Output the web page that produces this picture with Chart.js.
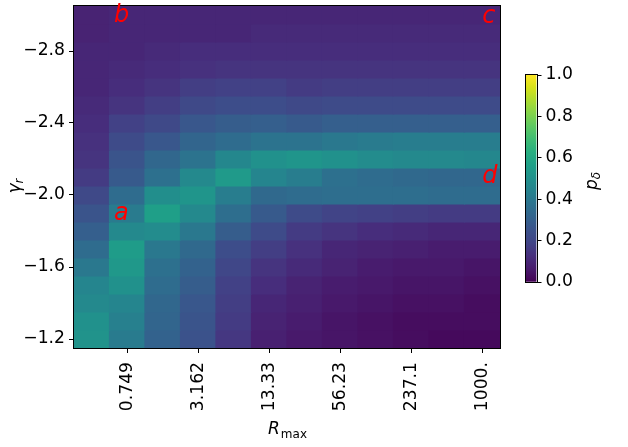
<!DOCTYPE html>
<html><head><meta charset="utf-8">
<script src="https://cdn.jsdelivr.net/npm/chart.js@4.4.0/dist/chart.umd.min.js"></script>
<style>
html,body{margin:0;padding:0;background:#fff;}
#wrap{position:relative;width:628px;height:447px;overflow:hidden;}
canvas{position:absolute;top:0;}
</style></head><body>
<div id="wrap">
<canvas id="main" width="628" height="447" style="left:0"></canvas>
<canvas id="cbar" width="128" height="447" style="left:500px"></canvas>
</div>
<script>
// ---- data ----
const Rmax = ["0.3652","0.749","1.538","3.162","6.494","13.33","27.38","56.23","115.5","237.1","486.9","1000."];
const xTickCols = [1,3,5,7,9,11];
const gammaR = [-3.0,-2.9,-2.8,-2.7,-2.6,-2.5,-2.4,-2.3,-2.2,-2.1,-2.0,-1.9,-1.8,-1.7,-1.6,-1.5,-1.4,-1.3,-1.2];
const yTicks = [-2.8,-2.4,-2.0,-1.6,-1.2];
const cbarTicks = [0,0.2,0.4,0.6,0.8,1.0];

// p_delta, one row per gamma_r value (columns follow Rmax)
const p_g30 = [0.09,0.10,0.10,0.10,0.10,0.10,0.10,0.10,0.10,0.10,0.10,0.10];
const p_g29 = [0.09,0.10,0.10,0.10,0.10,0.11,0.11,0.11,0.11,0.11,0.11,0.11];
const p_g28 = [0.10,0.10,0.11,0.12,0.12,0.12,0.12,0.12,0.12,0.12,0.12,0.12];
const p_g27 = [0.10,0.11,0.12,0.13,0.14,0.14,0.14,0.14,0.14,0.14,0.14,0.14];
const p_g26 = [0.10,0.12,0.14,0.17,0.18,0.18,0.16,0.17,0.17,0.17,0.17,0.17];
const p_g25 = [0.11,0.14,0.17,0.21,0.23,0.23,0.21,0.22,0.22,0.22,0.22,0.22];
const p_g24 = [0.12,0.18,0.21,0.27,0.29,0.30,0.28,0.30,0.30,0.30,0.30,0.30];
const p_g23 = [0.13,0.22,0.27,0.32,0.35,0.38,0.38,0.40,0.41,0.42,0.42,0.42];
const p_g22 = [0.14,0.26,0.33,0.38,0.46,0.50,0.52,0.50,0.48,0.47,0.47,0.46];
const p_g21 = [0.16,0.28,0.37,0.47,0.54,0.45,0.42,0.37,0.35,0.34,0.33,0.33];
const p_g20 = [0.21,0.35,0.49,0.52,0.42,0.34,0.35,0.36,0.36,0.36,0.35,0.35];
const p_g19 = [0.26,0.41,0.56,0.47,0.36,0.28,0.22,0.19,0.18,0.17,0.16,0.16];
const p_g18 = [0.30,0.47,0.48,0.40,0.29,0.22,0.16,0.14,0.12,0.11,0.10,0.10];
const p_g17 = [0.35,0.55,0.40,0.34,0.23,0.17,0.13,0.10,0.09,0.08,0.07,0.07];
const p_g16 = [0.40,0.53,0.37,0.31,0.20,0.14,0.11,0.09,0.07,0.06,0.06,0.05];
const p_g15 = [0.45,0.50,0.35,0.29,0.18,0.12,0.09,0.07,0.06,0.05,0.05,0.04];
const p_g14 = [0.47,0.45,0.33,0.27,0.17,0.10,0.08,0.06,0.05,0.04,0.04,0.03];
const p_g13 = [0.50,0.43,0.32,0.26,0.16,0.09,0.07,0.05,0.04,0.03,0.03,0.03];
const p_g12 = [0.51,0.41,0.31,0.25,0.15,0.08,0.06,0.05,0.04,0.03,0.02,0.02];
const pDelta = [p_g30,p_g29,p_g28,p_g27,p_g26,p_g25,p_g24,p_g23,p_g22,p_g21,p_g20,p_g19,p_g18,p_g17,p_g16,p_g15,p_g14,p_g13,p_g12];

// annotation labels (data coordinates: column index, gamma_r)
const annotText = ["a","b","c","d"];
const annotCol = [0.63,0.63,11.0,11.0];
const annotGamma = [-1.86,-2.96,-2.955,-2.065];

// ---- viridis colormap ----
const VIR = [[68,1,84],[72,26,108],[71,47,125],[65,68,135],[59,82,139],[51,99,141],[44,114,142],[38,130,142],[33,145,140],[31,160,136],[40,174,128],[63,188,115],[94,201,98],[132,212,75],[173,220,48],[216,226,25],[253,231,37]];
const VIRPOS = [0,16,32,48,64,80,96,112,128,144,160,176,192,208,224,240,255].map(v=>v/255);
function viridis(v){
  v = Math.max(0, Math.min(1, v));
  let i = 0;
  while (i < VIRPOS.length-2 && v > VIRPOS[i+1]) i++;
  const t = (v - VIRPOS[i]) / (VIRPOS[i+1]-VIRPOS[i]);
  const a = VIR[i], b = VIR[i+1];
  const c = a.map((x,k)=>Math.round(x + (b[k]-x)*t));
  return `rgb(${c[0]},${c[1]},${c[2]})`;
}

const FONT = "'DejaVu Sans', 'Liberation Sans', sans-serif";
const TICKSIZE = 17.2;
const fmtNum = v => (v < 0 ? '\u2212' : '') + Math.abs(v).toFixed(1);
const half = 0.05;

const datasets = gammaR.map((g, r) => ({
  label: 'gamma ' + g,
  data: pDelta[r].map(() => [g - half, g + half]),
  backgroundColor: pDelta[r].map(viridis),
  borderWidth: 0,
  inflateAmount: 0.6,
  grouped: false,
  barPercentage: 1,
  categoryPercentage: 1
}));

const noPad = s => { s.paddingTop = 0; s.paddingBottom = 0; s.paddingLeft = 0; s.paddingRight = 0; };

const decor = {
  id: 'decor',
  afterDraw(chart) {
    const ctx = chart.ctx, ca = chart.chartArea;
    const xs = chart.scales.x, ys = chart.scales.y;
    ctx.save();
    // frame
    ctx.strokeStyle = '#000'; ctx.lineWidth = 1;
    ctx.strokeRect(Math.round(ca.left)-0.5, Math.round(ca.top)-0.5, Math.round(ca.right-ca.left)+1, Math.round(ca.bottom-ca.top)+1);
    // annotations
    ctx.fillStyle = '#ff0000';
    ctx.font = "italic 24px " + FONT;
    ctx.textAlign = 'left'; ctx.textBaseline = 'alphabetic';
    annotText.forEach((t, i) => {
      ctx.fillText(t, xs.getPixelForValue(annotCol[i]), ys.getPixelForValue(annotGamma[i]));
    });
    // x label R_max
    ctx.fillStyle = '#000';
    ctx.font = "italic 17px " + FONT;
    const wR = ctx.measureText('R').width;
    ctx.font = "12px " + FONT;
    const wM = ctx.measureText('max').width;
    const cx = (ca.left + ca.right) / 2;
    let sx = cx - (wR + wM) / 2;
    ctx.font = "italic 17px " + FONT;
    ctx.fillText('R', sx, 434);
    ctx.font = "12px " + FONT;
    ctx.fillText('max', sx + wR + 1, 438);
    // y label gamma_r
    ctx.save();
    ctx.translate(20, 186);
    ctx.rotate(-Math.PI/2);
    ctx.font = "italic 17px " + FONT;
    const wg = ctx.measureText('\u03b3').width;
    ctx.font = "italic 12px " + FONT;
    const wr = ctx.measureText('r').width;
    let s = -(wg + wr) / 2;
    ctx.font = "italic 17px " + FONT;
    ctx.fillText('\u03b3', s, 0);
    ctx.font = "italic 12px " + FONT;
    ctx.fillText('r', s + wg, 3);
    ctx.restore();
    // colorbar label p_delta
    ctx.save();
    ctx.translate(597, 181);
    ctx.rotate(-Math.PI/2);
    ctx.font = "italic 17px " + FONT;
    const wp = ctx.measureText('p').width;
    ctx.font = "italic 12px " + FONT;
    const wd = ctx.measureText('\u03b4').width;
    s = -(wp + wd) / 2;
    ctx.font = "italic 17px " + FONT;
    ctx.fillText('p', s, 0);
    ctx.font = "italic 12px " + FONT;
    ctx.fillText('\u03b4', s + wp, 3);
    ctx.restore();
    ctx.restore();
  }
};

new Chart(document.getElementById('main'), {
  type: 'bar',
  data: { labels: Rmax, datasets },
  options: {
    responsive: false, animation: false, devicePixelRatio: 1,
    layout: { padding: { left: 0, top: 6, right: 128, bottom: 0 } },
    plugins: { legend: { display: false }, tooltip: { enabled: false } },
    scales: {
      x: {
        type: 'category', offset: true,
        grid: { offset: false, drawOnChartArea: false, drawTicks: true, tickLength: 5, tickWidth: 1,
          tickColor: c => (xTickCols.includes(c.index) ? '#000' : 'rgba(0,0,0,0)') },
        border: { display: false },
        ticks: { autoSkip: false, minRotation: 90, maxRotation: 90, padding: 9, color: '#000',
          font: { family: FONT, size: TICKSIZE },
          callback: (v, i) => (xTickCols.includes(i) ? Rmax[i] : '') },
        afterFit: s => { s.height = 99; noPad(s); }
      },
      y: {
        type: 'linear', reverse: true, min: -3.05, max: -1.15,
        grid: { drawOnChartArea: false, drawTicks: true, tickLength: 5, tickWidth: 1, tickColor: '#000' },
        border: { display: false },
        ticks: { padding: 4, color: '#000', font: { family: FONT, size: TICKSIZE }, callback: v => fmtNum(v) },
        afterBuildTicks: s => { s.ticks = yTicks.map(v => ({ value: v })); },
        afterFit: s => { s.width = 74; noPad(s); }
      }
    }
  },
  plugins: [decor]
});

// ---- colorbar ----
const cbFrame = {
  id: 'cbFrame',
  afterDraw(chart) {
    const ctx = chart.ctx, ca = chart.chartArea;
    ctx.save();
    ctx.strokeStyle = '#000'; ctx.lineWidth = 1;
    ctx.strokeRect(Math.round(ca.left)-0.5, Math.round(ca.top)-0.5, Math.round(ca.right-ca.left)+1, Math.round(ca.bottom-ca.top)+1);
    ctx.restore();
  }
};
new Chart(document.getElementById('cbar'), {
  type: 'bar',
  data: { labels: [''], datasets: [{
    data: [[0, 1]],
    borderWidth: 0, barPercentage: 1, categoryPercentage: 1,
    backgroundColor: c => {
      const ca = c.chart.chartArea;
      if (!ca) return '#21918c';
      const g = c.chart.ctx.createLinearGradient(0, ca.bottom, 0, ca.top);
      VIRPOS.forEach((p, i) => g.addColorStop(p, `rgb(${VIR[i][0]},${VIR[i][1]},${VIR[i][2]})`));
      return g;
    }
  }]},
  options: {
    responsive: false, animation: false, devicePixelRatio: 1,
    layout: { padding: { left: 26, top: 75, right: 0, bottom: 165 } },
    plugins: { legend: { display: false }, tooltip: { enabled: false } },
    scales: {
      x: { display: false },
      y: {
        position: 'right', min: 0, max: 1,
        grid: { drawOnChartArea: false, drawTicks: true, tickLength: 5, tickWidth: 1, tickColor: '#000' },
        border: { display: false },
        ticks: { padding: 4, color: '#000', font: { family: FONT, size: TICKSIZE }, callback: v => v.toFixed(1) },
        afterBuildTicks: s => { s.ticks = cbarTicks.map(v => ({ value: v })); },
        afterFit: s => { s.width = 91.5; noPad(s); }
      }
    }
  },
  plugins: [cbFrame]
});
</script>
</body></html>
